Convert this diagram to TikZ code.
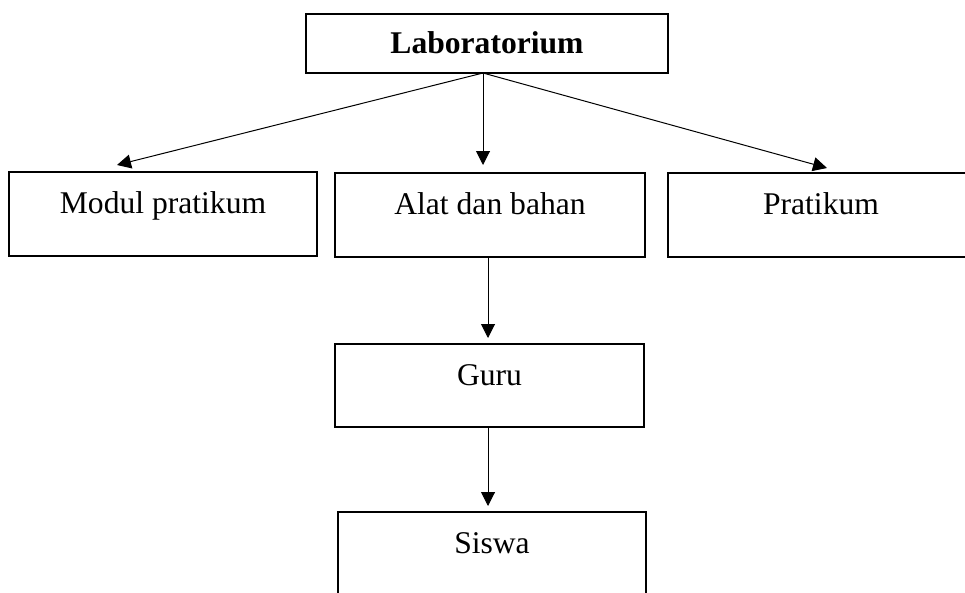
\documentclass[tikz,border=0pt]{standalone}
\usepackage{fontspec}
\setmainfont{Liberation Serif}
\usetikzlibrary{arrows.meta,calc}
\begin{document}
\begin{tikzpicture}[x=1pt,y=-1pt,
  box/.style={draw,line width=2pt,inner sep=0pt,outer sep=0pt},
  lbl/.style={anchor=base,inner sep=0pt,font=\fontsize{31.6}{38}\selectfont},
  arr/.style={line width=1pt,-{Triangle[length=14pt,width=14pt]}}]
\useasboundingbox (0,0) rectangle (965,592);
\clip (0,0) rectangle (965,592);
% boxes
\node[box,minimum width=362pt,minimum height=59pt] (lab) at (487,43.5) {};
\node[box,minimum width=308pt,minimum height=84pt] (modul) at (163,214) {};
\node[box,minimum width=310pt,minimum height=84pt] (alat) at (490,215) {};
\node[box,minimum width=312pt,minimum height=84pt] (prat) at (824,215) {};
\node[box,minimum width=309pt,minimum height=83pt] (guru) at (489.5,385.5) {};
\node[box,minimum width=308pt,minimum height=88pt] (siswa) at (492,556) {};
% labels
\node[lbl,font=\fontsize{31.6}{38}\selectfont\bfseries] (tlab) at (487,53) {Laboratorium};
\node[lbl] (tmodul) at (163,213) {Modul pratikum};
\node[lbl] (talat) at (490,214) {Alat dan bahan};
\node[lbl] (tprat) at (821,214) {Pratikum};
\node[lbl] (tguru) at (489.5,385) {Guru};
\node[lbl] (tsiswa) at (492,553) {Siswa};
% connector ends
\coordinate (src) at (483,73);
\coordinate (eM) at (117,165);
\coordinate (eA) at (483,165);
\coordinate (eP) at (827,168);
\coordinate (sA) at (488,257);
\coordinate (eG) at (488,338);
\coordinate (sG) at (488,427);
\coordinate (eS) at (488,506);
\draw[arr] (src) -- (eM);
\draw[arr] (src) -- (eA);
\draw[arr] (src) -- (eP);
\draw[arr] (sA) -- (eG);
\draw[arr] (sG) -- (eS);
\end{tikzpicture}
\end{document}
